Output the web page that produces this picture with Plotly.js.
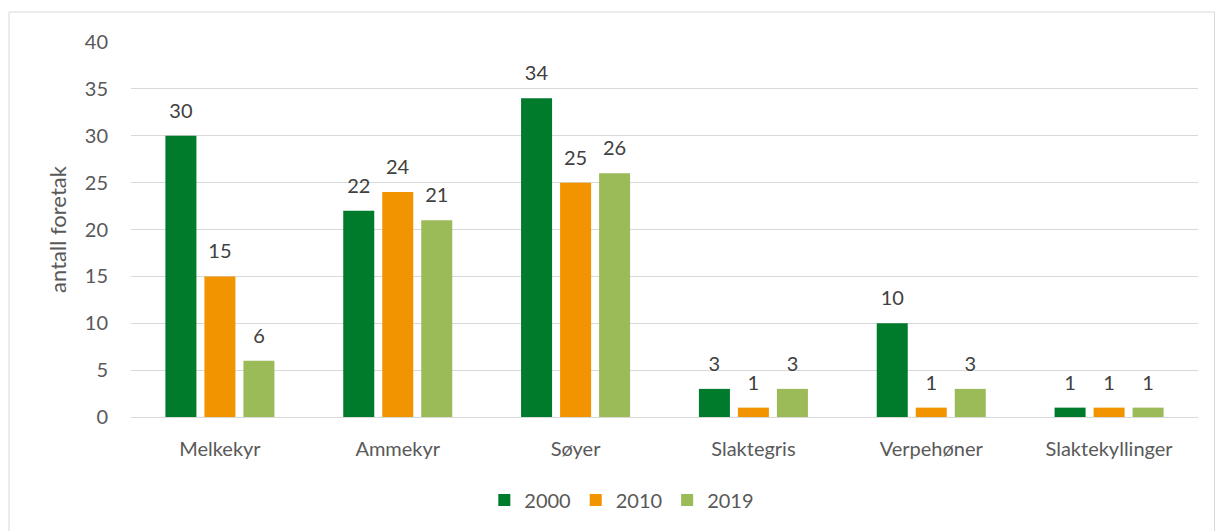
<!DOCTYPE html>
<html>
<head>
<meta charset="utf-8">
<script src="https://cdn.plot.ly/plotly-3.0.1.min.js"></script>
<style>html,body{margin:0;padding:0;background:#fff}#chart{width:1216px;height:531px}</style>
</head>
<body>
<div id="chart"></div>
<script>
const categories = ["Melkekyr", "Ammekyr", "Søyer", "Slaktegris", "Verpehøner", "Slaktekyllinger"];
const seriesNames = ["2000", "2010", "2019"];
const values2000 = [30, 22, 34, 3, 10, 1];
const values2010 = [15, 24, 25, 1, 1, 1];
const values2019 = [6, 21, 26, 3, 3, 1];
const colors = ["#007A2B", "#F29400", "#9BBB59"];
const yTicks = [0, 5, 10, 15, 20, 25, 30, 35, 40];

const FONT = "Lato, 'Open Sans', sans-serif";
const allValues = [values2000, values2010, values2019];
const traces = allValues.map((vals, i) => ({
  type: "bar",
  name: seriesNames[i],
  x: categories,
  y: vals,
  marker: {color: colors[i]},
  text: vals.map(v => "<span style='font-size:20px'>" + v + "</span><br> "),
  textposition: "outside",
  cliponaxis: false,
  textfont: {family: FONT, size: 10, color: "#404040"},
  hoverinfo: "x+y"
}));

const layout = {
  width: 1216, height: 531,
  margin: {l: 131, r: 18, t: 42, b: 114},
  paper_bgcolor: "#fff", plot_bgcolor: "#fff",
  barmode: "group",
  bargap: 0.342,
  bargroupgap: 0.205,
  font: {family: FONT, color: "#595959", size: 20},
  showlegend: true,
  legend: {orientation: "h", x: 0.46, xanchor: "center", y: -0.221, yanchor: "middle",
           font: {size: 20, color: "#595959"}, traceorder: "normal", itemwidth: 30},
  xaxis: {type: "category", showgrid: false, showline: true, linecolor: "#D9D9D9", linewidth: 1,
          ticks: "", tickfont: {size: 20, color: "#595959"}, ticklabelstandoff: 14,
          automargin: false, fixedrange: true},
  yaxis: {range: [0, 40], tickvals: yTicks, showgrid: true, gridcolor: "#D9D9D9", gridwidth: 1,
          zeroline: false, showline: false, ticks: "", ticklen: 0, tickfont: {size: 20, color: "#595959"},
          ticklabelstandoff: 22,
          title: {text: "antall foretak", font: {size: 22, color: "#595959"}, standoff: 12},
          automargin: false, fixedrange: true},
  shapes: [{type: "rect", xref: "paper", yref: "paper",
            x0: -0.1143, x1: 1.0155, y0: -0.31, y1: 1.08,
            line: {color: "#D9D9D9", width: 1}, fillcolor: "rgba(0,0,0,0)", layer: "below"}]
};

Plotly.newPlot("chart", traces, layout, {displayModeBar: false, staticPlot: true});
</script>
</body>
</html>
